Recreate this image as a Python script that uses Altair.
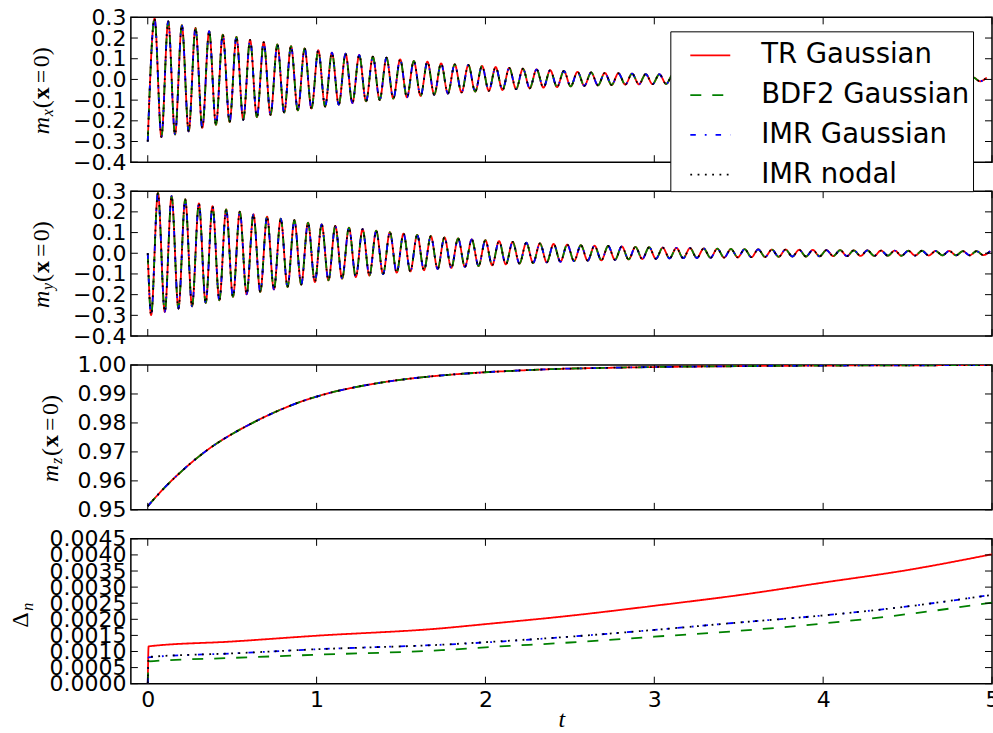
import altair as alt
import pandas as pd

# ---------------- data ----------------
METHODS = ["TR Gaussian", "BDF2 Gaussian", "IMR Gaussian", "IMR nodal"]
COLORS = ["#ff0000", "#008000", "#0000ff", "#000000"]
DASHES = [[1, 0], [11, 11], [5.5, 9, 1.8, 9], [1.8, 5.5]]

X_TICKS = [0, 1, 2, 3, 4, 5]
MXY_TICKS = [-0.4, -0.3, -0.2, -0.1, 0.0, 0.1, 0.2, 0.3]
MZ_TICKS = [0.95, 0.96, 0.97, 0.98, 0.99, 1.00]
DN_TICKS = [0.0, 0.0005, 0.0010, 0.0015, 0.0020, 0.0025, 0.0030, 0.0035, 0.0040, 0.0045]

# spacing (in t) between successive extrema of the precession, and the lag of m_y
HALF_PERIOD = 0.0404
MY_LAG = 0.02

# m_x(x=0): successive troughs and peaks
mx_troughs = [-0.300, -0.278, -0.266, -0.251, -0.234, -0.219, -0.206, -0.195, -0.182, -0.171,
              -0.160, -0.150, -0.141, -0.131, -0.122, -0.114, -0.106, -0.099, -0.093, -0.087,
              -0.080, -0.074, -0.068, -0.063, -0.059, -0.055, -0.051, -0.047, -0.043, -0.040,
              -0.037, -0.034, -0.031, -0.029, -0.027, -0.025, -0.024, -0.023, -0.022, -0.021,
              -0.020, -0.019, -0.018, -0.018, -0.017, -0.016, -0.016, -0.015, -0.014, -0.014,
              -0.013, -0.013, -0.012, -0.012, -0.011, -0.011, -0.011, -0.010, -0.010, -0.010,
              -0.009, -0.009]
mx_peaks = [0.294, 0.281, 0.262, 0.249, 0.233, 0.217, 0.206, 0.191, 0.180, 0.169,
            0.161, 0.150, 0.141, 0.129, 0.124, 0.118, 0.110, 0.105, 0.097, 0.089,
            0.086, 0.078, 0.073, 0.070, 0.065, 0.060, 0.056, 0.052, 0.049, 0.045,
            0.041, 0.037, 0.034, 0.032, 0.030, 0.028, 0.026, 0.025, 0.024, 0.022,
            0.021, 0.020, 0.019, 0.018, 0.018, 0.017, 0.016, 0.016, 0.015, 0.014,
            0.014, 0.013, 0.013, 0.012, 0.012, 0.011, 0.011, 0.011, 0.010, 0.010,
            0.010, 0.009]

# m_y(x=0): starts at 0, then successive troughs and peaks
my_start = 0.0
my_troughs = [-0.299, -0.283, -0.267, -0.256, -0.240, -0.227, -0.211, -0.198, -0.187, -0.175,
              -0.163, -0.151, -0.139, -0.131, -0.123, -0.115, -0.108, -0.101, -0.094, -0.088,
              -0.082, -0.076, -0.071, -0.066, -0.062, -0.058, -0.054, -0.050, -0.047, -0.044,
              -0.041, -0.038, -0.036, -0.034, -0.032, -0.030, -0.028, -0.027, -0.025, -0.024,
              -0.023, -0.022, -0.021, -0.020, -0.019, -0.018, -0.017, -0.016, -0.016, -0.015,
              -0.014, -0.014, -0.013, -0.013, -0.012, -0.012, -0.011, -0.011, -0.010, -0.010,
              -0.010, -0.009]
my_peaks = [0.292, 0.276, 0.260, 0.241, 0.228, 0.212, 0.201, 0.188, 0.177, 0.167,
            0.160, 0.148, 0.140, 0.132, 0.124, 0.116, 0.109, 0.102, 0.095, 0.089,
            0.083, 0.077, 0.072, 0.067, 0.063, 0.059, 0.055, 0.051, 0.048, 0.045,
            0.042, 0.039, 0.037, 0.035, 0.033, 0.031, 0.029, 0.027, 0.026, 0.025,
            0.023, 0.022, 0.021, 0.020, 0.019, 0.018, 0.018, 0.017, 0.016, 0.015,
            0.015, 0.014, 0.014, 0.013, 0.013, 0.012, 0.012, 0.011, 0.011, 0.010,
            0.010, 0.010]

# m_z(x=0)
mz_t = [0.0, 0.1, 0.2, 0.3, 0.4, 0.5, 0.6, 0.7, 0.8, 0.9, 1.0, 1.1, 1.2, 1.4, 1.6, 1.8,
        2.0, 2.2, 2.4, 2.7, 3.0, 3.5, 4.0, 4.5, 5.0]
mz_vals = [0.9513, 0.9577, 0.9633, 0.9683, 0.9726, 0.9762, 0.9794, 0.9823, 0.9849, 0.9872,
           0.9891, 0.9907, 0.9920, 0.9941, 0.9956, 0.9967, 0.9975, 0.9981, 0.9986, 0.9990,
           0.9993, 0.9996, 0.9998, 0.9999, 0.99995]

# Delta_n
dn_t = [0.0, 0.005, 0.5, 1.0, 1.74, 2.0, 2.5, 3.0, 3.5, 4.0, 4.5, 5.0]
dn_tr = [0.0, 0.00116, 0.00131, 0.00149, 0.00172, 0.00185, 0.00211, 0.00242, 0.00275, 0.00314, 0.00353, 0.00402]
dn_bdf2 = [0.0, 0.00069, 0.00080, 0.00090, 0.00104, 0.00113, 0.00128, 0.00146, 0.00164, 0.00187, 0.00216, 0.00252]
dn_imr = [0.0, 0.00082, 0.00094, 0.00107, 0.00121, 0.00128, 0.00146, 0.00167, 0.00190, 0.00212, 0.00240, 0.00276]
dn_imr_nodal = [0.0, 0.00083, 0.00094, 0.00107, 0.00121, 0.00129, 0.00146, 0.00167, 0.00190, 0.00212, 0.00240, 0.00276]

# ---------------- tables ----------------
def osc_table(troughs, peaks, lag, start=None):
    rows_t, rows_v = [], []
    if start is not None:
        rows_t.append(0.0)
        rows_v.append(start)
    for k, (lo, hi) in enumerate(zip(troughs, peaks)):
        rows_t.append(round(lag + 2 * k * HALF_PERIOD, 5))
        rows_v.append(lo)
        rows_t.append(round(lag + (2 * k + 1) * HALF_PERIOD, 5))
        rows_v.append(hi)
    frames = [pd.DataFrame({"t": rows_t, "v": rows_v, "method": m}) for m in METHODS]
    return pd.concat(frames, ignore_index=True)


mx_df = osc_table(mx_troughs, mx_peaks, 0.0)
my_df = osc_table(my_troughs, my_peaks, MY_LAG, start=my_start)
mz_df = pd.concat([pd.DataFrame({"t": mz_t, "v": mz_vals, "method": m}) for m in METHODS],
                  ignore_index=True)
dn_df = pd.concat([
    pd.DataFrame({"t": dn_t, "v": vals, "method": m})
    for m, vals in zip(METHODS, [dn_tr, dn_bdf2, dn_imr, dn_imr_nodal])
], ignore_index=True)

# ---------------- layout / style ----------------
W, H = 862, 145
TICK = 7
LW = 1.8
MATH_FONT = "Liberation Serif"
ONE = pd.DataFrame({"k": [0]})

xscale = alt.Scale(domain=[-0.1, 5], nice=False, zero=False)
color_scale = alt.Scale(domain=METHODS, range=COLORS)
dash_scale = alt.Scale(domain=METHODS, range=DASHES)

legend = alt.Legend(
    orient="none", legendX=540, legendY=14, title=None,
    symbolType="stroke", symbolSize=1600, symbolStrokeWidth=LW,
    labelFont="DejaVu Sans", labelFontSize=27.5, labelColor="black", labelLimit=400,
    padding=3, rowPadding=4.8, symbolOffset=16, labelOffset=30,
    strokeColor="black", fillColor="white", cornerRadius=0,
)


def line_layers(df, yscale, yaxis, xaxis, interp):
    out = []
    for m in METHODS:
        out.append(
            alt.Chart(df).transform_filter(alt.datum.method == m)
            .mark_line(strokeWidth=LW, clip=True, interpolate=interp)
            .encode(
                x=alt.X("t:Q", scale=xscale, axis=xaxis),
                y=alt.Y("v:Q", scale=yscale, axis=yaxis),
                color=alt.Color("method:N", scale=color_scale, legend=legend),
                strokeDash=alt.StrokeDash("method:N", scale=dash_scale, legend=legend),
            )
        )
    return out


def tick_layers(yvals, yscale, yaxis, xaxis):
    xt = pd.DataFrame({"t": X_TICKS})
    yt = pd.DataFrame({"v": yvals})
    xr = alt.Chart(xt).mark_rule(color="black", strokeWidth=1)
    yr = alt.Chart(yt).mark_rule(color="black", strokeWidth=1)
    X = alt.X("t:Q", scale=xscale, axis=xaxis)
    Y = alt.Y("v:Q", scale=yscale, axis=yaxis)
    return [
        xr.encode(x=X, y=alt.value(0), y2=alt.value(TICK)),
        xr.encode(x=X, y=alt.value(H - TICK), y2=alt.value(H)),
        yr.encode(y=Y, x=alt.value(0), x2=alt.value(TICK)),
        yr.encode(y=Y, x=alt.value(W - TICK), x2=alt.value(W)),
    ]


def piece(txt, x, y, size, style="normal", weight="normal"):
    return alt.Chart(ONE).mark_text(
        text=txt, angle=270, align="left", baseline="alphabetic",
        font=MATH_FONT, fontSize=size, fontStyle=style, fontWeight=weight, color="black",
    ).encode(x=alt.value(x), y=alt.value(y))


def m_label(sub, bx):
    return [
        piece("m", bx, 117, 24, style="italic"),
        piece(sub, bx + 4, 99, 16, style="italic"),
        piece("(", bx, 91, 24),
        piece("x", bx, 82, 24, weight="bold"),
        piece("=", bx, 66, 24),
        piece("0)", bx, 50, 24),
    ]


def yaxis(vals, fmt):
    return alt.Axis(values=vals, format=fmt, ticks=False, domain=False, grid=False,
                    labelPadding=5, title=None, labelOverlap=False, labelFlush=False,
                    labelFont="DejaVu Sans", labelFontSize=22, labelColor="black")


bottom_x = alt.Axis(values=X_TICKS, format="d", ticks=False, domain=False, grid=False,
                    labelPadding=6, labelFlush=False, labelOverlap=False,
                    labelFont="DejaVu Sans", labelFontSize=22, labelColor="black",
                    title="t", titleFont=MATH_FONT, titleFontStyle="italic", titleFontWeight="normal",
                    titleFontSize=24, titlePadding=-3, titleColor="black")

s_mxy = alt.Scale(domain=[-0.4, 0.3], nice=False, zero=False)
s_mz = alt.Scale(domain=[0.95, 1.0], nice=False, zero=False)
s_dn = alt.Scale(domain=[0.0, 0.0045], nice=False, zero=False)


def panel(df, yscale, ticks, fmt, xaxis, labels):
    ya = yaxis(ticks, fmt)
    return alt.layer(
        *line_layers(df, yscale, ya, xaxis, "monotone"),
        *tick_layers(ticks, yscale, ya, xaxis),
        *labels,
    ).properties(width=W, height=H)


p1 = panel(mx_df, s_mxy, MXY_TICKS, ".1f", None, m_label("x", -82))
p2 = panel(my_df, s_mxy, MXY_TICKS, ".1f", None, m_label("y", -82))
p3 = panel(mz_df, s_mz, MZ_TICKS, ".2f", None, m_label("z", -73))
p4 = panel(dn_df, s_dn, DN_TICKS, ".4f", bottom_x,
           [piece("Δ", -103, 89, 24), piece("n", -98, 72, 16, style="italic")])

chart = (
    alt.vconcat(p1, p2, p3, p4, spacing=5)
    .properties(padding={"left": 8, "top": 5, "right": -7, "bottom": 0}, background="white")
    .configure_view(stroke="black", strokeWidth=1.5)
)

chart.save("out.html", embed_options={"renderer": "svg", "actions": False})
